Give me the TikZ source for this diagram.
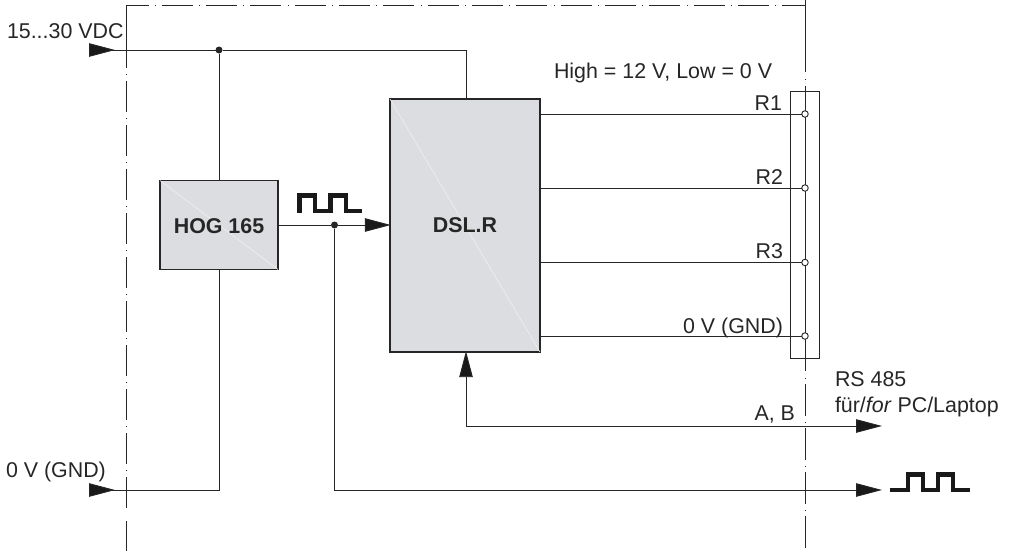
\documentclass[tikz,border=0pt]{standalone}
\usepackage{fontspec}
\setmainfont{Liberation Sans}
\usetikzlibrary{arrows.meta}
\definecolor{ink}{HTML}{262626}
\definecolor{boxfill}{HTML}{DCDDE0}
\tikzset{
  lab/.style={inner sep=0pt,outer sep=0pt,text=ink,font=\fontsize{21.4}{25}\selectfont,anchor=base west},
  labr/.style={lab,anchor=base east},
  blockbox/.style={draw=ink,fill=boxfill,line width=1.6pt,inner sep=0pt,outer sep=0pt},
  blocktext/.style={inner sep=0pt,text=ink,font=\fontsize{21.4}{25}\selectfont\bfseries},
  wire/.style={draw=ink,line width=0.95pt},
  wiretip/.style={wire,-{Triangle[length=26pt,width=13.5pt,fill=black!90]}},
  border/.style={draw=ink,line width=0.95pt},
  dotj/.style={circle,fill=ink,inner sep=0pt,minimum size=7pt,outer sep=0pt},
  port/.style={circle,draw=ink,fill=white,line width=0.9pt,inner sep=0pt,minimum size=6.5pt,outer sep=0pt},
  pulse/.style={draw=black!90,line width=4.8pt,line cap=butt,line join=miter},
  diag/.style={draw=white!94!black,line width=0.6pt}
}
\begin{document}
\begin{tikzpicture}[x=1pt,y=-1pt]
\useasboundingbox (0,0) rectangle (1013,552);
% dash-dot frame
\foreach \k in {0,...,14}{
  \pgfmathsetmacro{\xa}{155+44.35*\k}
  \pgfmathsetmacro{\xb}{\xa+6.5}
  \pgfmathsetmacro{\xc}{min(\xa+37.5,805)}
  \fill[ink] (\xa-0.5,4.5) rectangle (\xa+0.5,5.5);
  \draw[border] (\xb,5) -- (\xc,5);
}
\draw[border] (126,5) -- (148.5,5);
\foreach \k in {0,...,9}{
  \pgfmathsetmacro{\ya}{74+44.1*\k}
  \fill[ink] (125.5,\ya-0.5) rectangle (126.5,\ya+0.5);
  \draw[border] (126,\ya+6.5) -- (126,\ya+37.5);
}
\draw[border] (126,5) -- (126,67.5);
\draw[border] (126,514.9+6) -- (126,551);
% right border
\draw[border] (805,0) -- (805,72);
\foreach \ya/\yb in {79/143,150/218,225/292,299/371}{
  \fill[ink] (804.5,\ya-0.5) rectangle (805.5,\ya+0.5);
  \draw[border] (805,\ya+7) -- (805,\yb);
}
\foreach \ya in {378,422,466,510}{
  \fill[ink] (804.5,\ya-0.5) rectangle (805.5,\ya+0.5);
  \draw[border] (805,\ya+6) -- (805,\ya+37.5);
}
% connector strip
\node[draw=ink,line width=1pt,minimum width=29.5pt,minimum height=267pt,inner sep=0pt,outer sep=0pt] (strip) at (805,224.7) {};
\draw[border] (805,91) -- (805,358);
% blocks
\node[blockbox,minimum width=118pt,minimum height=89pt] (hog) at (219,225) {};
\node[blockbox,minimum width=150pt,minimum height=253pt] (dsl) at (465,225.5) {};
\draw[diag] (hog.north west) -- (hog.south east);
\draw[diag] (dsl.north west) -- (dsl.south east);
\node[blocktext] (hogt) at (219,226.5) {HOG 165};
\node[blocktext] (dslt) at (465,225.5) {DSL.R};
% named points
\coordinate (in1) at (89,50);
\coordinate (in1t) at (115,50);
\node[dotj] (j1) at (219,50) {};
\coordinate (c1) at (466,50);
\coordinate (in2) at (89,490);
\coordinate (in2t) at (115,490);
\coordinate (c2) at (219,490);
\node[dotj] (j2) at (334.5,225) {};
\coordinate (abc) at (466,426);
\coordinate (abe) at (882,426);
\coordinate (puc) at (334.5,490);
\coordinate (pue) at (882,490);
\node[port] (p1) at (805,114) {};
\node[port] (p2) at (805,188) {};
\node[port] (p3) at (805,262.5) {};
\node[port] (p4) at (805,336) {};
% wires
\draw[wire] (in1) -- (j1) -- (c1) -- (c1 |- dsl.north);
\draw[wire] (j1) -- (j1 |- hog.north);
\draw[wire] (in2) -- (c2) -- (c2 |- hog.south);
\draw[wire] (hog.east |- j2) -- (j2);
\draw[wiretip,shorten >=-0.8pt] (j2) -- (j2 -| dsl.west);
\draw[wiretip] (j2) -- (puc) -- (pue);
\draw[wiretip] (abc) -- (abe);
\draw[wiretip,shorten >=-0.8pt] (abc) -- (abc |- dsl.south);
\draw[wire] (dsl.east |- p1) -- (p1);
\draw[wire] (dsl.east |- p2) -- (p2);
\draw[wire] (dsl.east |- p3) -- (p3);
\draw[wire] (dsl.east |- p4) -- (p4);
% entry arrowheads
\draw[wiretip] (in1) -- (in1t);
\draw[wiretip] (in2) -- (in2t);
% pulses
\draw[pulse] (299.5,213) -- (299.5,195.5) -- (315,195.5) -- (315,211) -- (330.5,211) -- (330.5,195.5) -- (346,195.5) -- (346,211) -- (362,211);
\draw[pulse] (890,490) -- (908,490) -- (908,474.5) -- (923,474.5) -- (923,490) -- (938,490) -- (938,474.5) -- (953,474.5) -- (953,490) -- (970,490);
% labels
\node[lab] (t1) at (7,38) {15...30 VDC};
\node[lab] (t2) at (6,477) {0 V (GND)};
\node[lab] (t3) at (554,78) {High = 12 V, Low = 0 V};
\node[labr] (t4) at (782,110) {R1};
\node[labr] (t5) at (783,184) {R2};
\node[labr] (t6) at (783,258) {R3};
\node[labr] (t7) at (783,333) {0 V (GND)};
\node[lab] (t8) at (835,386) {RS 485};
\node[lab] (t9) at (835,412) {für/\textit{for} PC/Laptop};
\node[labr] (t10) at (795,420) {A, B};
\end{tikzpicture}
\end{document}
